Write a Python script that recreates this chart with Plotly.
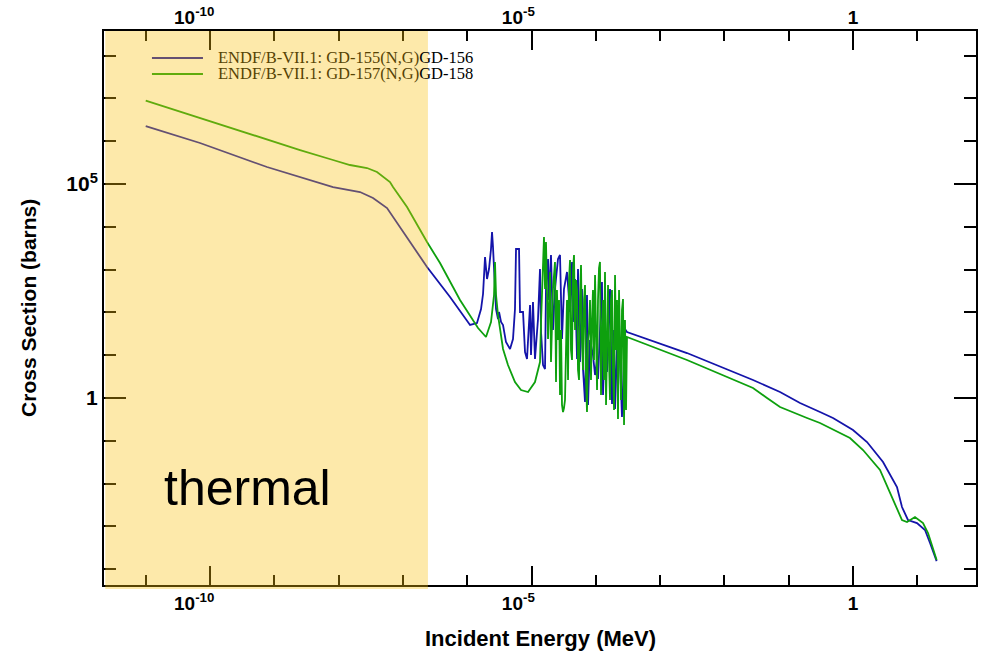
import plotly.graph_objects as go

# Neutron capture cross sections, ENDF/B-VII.1.
# Values are stored as log10(energy / MeV) and log10(sigma / barns).
gd155_log_e = [
    -11.0, -10.156, -9.114, -8.600, -8.087, -7.667, -7.465, -7.247, -7.045, -6.843, -6.625,
    -6.267, -5.956, -5.848, -5.785, -5.754, -5.723, -5.692, -5.661, -5.630, -5.614,
    -5.599, -5.568, -5.552, -5.521, -5.505, -5.474, -5.443, -5.397, -5.334, -5.288,
    -5.257, -5.241, -5.194, -5.179, -5.132, -5.101, -5.070, -5.023, -5.008, -4.977,
    -4.946, -4.899, -4.868, -4.852, -4.821, -4.790, -4.775, -4.743, -4.728, -4.697,
    -4.666, -4.635, -4.588, -4.557, -4.526, -4.495, -4.448, -4.401, -4.370, -4.355,
    -4.323, -4.292, -4.277, -4.246, -4.215, -4.199, -4.168, -4.137, -4.121, -4.090,
    -4.044, -4.012, -3.981, -3.966, -3.904, -3.888, -3.857, -3.826, -3.779, -3.748,
    -3.717, -3.701, -3.655, -3.624, -3.593, -3.546, -3.515, -2.582, -1.555, -1.135,
    -0.824, -0.513, -0.311, 0.0, 0.218, 0.467, 0.684, 0.762, 0.855, 0.995,
    1.120, 1.198, 1.301,
]
gd155_log_xs = [
    6.355, 5.958, 5.397, 5.164, 4.930, 4.813, 4.673, 4.439, 3.995, 3.528, 3.061,
    2.360, 1.706, 1.752, 2.079, 2.430, 3.294, 2.780, 3.014, 3.481, 3.879,
    3.528, 2.640, 2.079, 1.846, 2.009, 1.776, 1.706, 1.308, 1.145, 1.379,
    2.079, 3.481, 3.481, 2.009, 2.009, 1.075, 0.911, 2.173, 1.005, 2.243,
    0.911, 1.846, 3.014, 1.542, 0.771, 0.678, 2.547, 3.248, 2.290, 3.341,
    1.589, 2.547, 3.248, 3.341, 1.379, 2.547, 2.944, 2.009, 3.178, 1.776,
    2.780, 0.911, 3.014, 0.841, 2.547, 0.678, -0.093, 2.407, -0.164, 1.355,
    1.005, 0.537, 0.888, 0.444, 2.710, 0.070, 1.589, 0.607, 2.547, -0.140,
    1.589, -0.257, 1.822, 0.888, -0.444, 1.612, 1.542, 1.051, 0.421, 0.140,
    -0.117, -0.327, -0.467, -0.748, -1.028, -1.495, -2.079, -2.547, -2.850, -2.921,
    -3.084, -3.388, -3.810,
]

gd157_log_e = [
    -11.0, -10.156, -9.114, -8.600, -8.087, -7.823, -7.558, -7.403, -7.201, -7.154,
    -6.936, -6.625, -6.423, -6.112, -5.832, -5.708, -5.630, -5.583, -5.568, -5.552,
    -5.521, -5.443, -5.366, -5.257, -5.163, -5.054, -4.946, -4.868, -4.852, -4.821,
    -4.806, -4.790, -4.775, -4.743, -4.712, -4.697, -4.666, -4.635,
    -4.619, -4.604, -4.588, -4.572, -4.557, -4.541, -4.526, -4.510, -4.495, -4.479,
    -4.463, -4.448, -4.432, -4.417, -4.401, -4.386, -4.370, -4.355, -4.339, -4.323,
    -4.308, -4.292, -4.277, -4.261, -4.246, -4.230, -4.215, -4.199, -4.183, -4.168,
    -4.152, -4.137, -4.121, -4.106, -4.090, -4.075, -4.059, -4.044, -4.028, -4.012,
    -3.997, -3.981, -3.966, -3.950, -3.935, -3.919, -3.904, -3.888, -3.873, -3.857,
    -3.841, -3.826, -3.810, -3.795, -3.779, -3.764, -3.748, -3.733, -3.717, -3.701,
    -3.686, -3.670, -3.655, -3.639, -3.624, -3.608, -3.593, -3.577, -3.561, -3.546,
    -3.530, -3.515,
    -2.582, -1.555, -1.337, -1.135, -0.715, -0.513, -0.047, 0.156, 0.420, 0.622,
    0.762, 0.840, 0.964, 1.089, 1.167, 1.301,
]
gd157_log_xs = [
    6.946, 6.542, 6.028, 5.794, 5.561, 5.444, 5.374, 5.280, 5.047, 4.930,
    4.463, 3.645, 3.154, 2.290, 1.636, 1.425, 1.776, 2.407, 3.178, 2.407,
    1.939, 1.145, 0.771, 0.374, 0.187, 0.140, 0.374, 0.841, 1.776, 3.341,
    3.762, 2.547, 3.645, 1.379, 2.944, 0.841, 2.547, 3.178,
    0.374, 2.523, 1.355, 2.290, 0.070, 1.589, -0.164, -0.327, -0.234, -0.047,
    1.822, 2.290, 0.421, 2.757, 3.224, 1.121, 0.888, 2.991, 3.341, 1.589,
    2.757, 2.523, 0.654, 0.421, 2.290, 3.107, 1.355, 0.654, 2.290, 2.640,
    0.421, -0.327, 1.355, 1.589, 2.290, 0.421, 1.822, 2.523, 0.888, 2.874,
    1.589, 0.187, 2.290, 3.037, 3.178, 0.070, 1.355, 2.290, 0.421, 2.944,
    -0.164, 1.822, 2.640, 0.888, -0.047, 2.290, 2.523, 0.654, -0.280, 2.874,
    1.121, 2.290, -0.491, 2.523, 1.355, -0.047, 2.056, 2.313, -0.631, 1.822,
    -0.280, 1.425,
    0.888, 0.234, 0.0, -0.210, -0.467, -0.584, -0.935, -1.215, -1.682, -2.383,
    -2.850, -2.897, -2.780, -2.921, -3.154, -3.785,
]

series_names = [
    "ENDF/B-VII.1: GD-155(N,G)GD-156",
    "ENDF/B-VII.1: GD-157(N,G)GD-158",
]
series_colors = ["#1414aa", "#0ea00e"]

NB = "\u00a0"
x_major_vals = [1e-10, 1e-5, 1.0]
x_major_text = ["10<sup>-10</sup>" + NB * 6, "10<sup>-5</sup>" + NB * 5, "1"]
x_minor_vals = [1e-11, 1e-10, 1e-9, 1e-8, 1e-7, 1e-6, 1e-5, 1e-4, 1e-3, 1e-2, 1e-1, 1.0, 10.0]
y_major_vals = [1e5, 1.0]
y_major_text = ["10<sup>5</sup>", "1"]
y_minor_vals = [1e-4, 1e-3, 1e-2, 1e-1, 1.0, 10.0, 1e2, 1e3, 1e4, 1e5, 1e6, 1e7, 1e8]

thermal_max_mev = 2.45e-7
thermal_min_mev = 2.35e-12

x_range_log = [-11.649, 1.913]
y_range_log = [-4.369, 8.575]

fig = go.Figure()

curves = [(gd155_log_e, gd155_log_xs), (gd157_log_e, gd157_log_xs)]
for (le, lx), name, color in zip(curves, series_names, series_colors):
    fig.add_trace(go.Scatter(
        x=[10.0 ** v for v in le],
        y=[10.0 ** v for v in lx],
        mode="lines",
        name=name,
        line=dict(color=color, width=1.8),
        showlegend=False,
    ))

# empty trace so the top energy axis is drawn
fig.add_trace(go.Scatter(x=[], y=[], xaxis="x2", showlegend=False))

tick_font = dict(family="Liberation Sans", size=19, color="black", weight="bold")

x_common = dict(
    type="log",
    range=x_range_log,
    automargin=False,
    tickmode="array",
    tickvals=x_major_vals,
    ticktext=x_major_text,
    ticks="inside",
    ticklen=19,
    tickwidth=2,
    tickcolor="black",
    showgrid=False,
    zeroline=False,
    tickfont=tick_font,
    minor=dict(tickmode="array", tickvals=x_minor_vals, ticks="inside",
               ticklen=10, tickwidth=2, tickcolor="black", showgrid=False),
)

fig.update_layout(
    width=993,
    height=657,
    margin=dict(l=104, r=17, t=31, b=72, autoexpand=False),
    paper_bgcolor="white",
    plot_bgcolor="white",
    xaxis=dict(**x_common, showline=True, linewidth=2, linecolor="black", mirror=True),
    xaxis2=dict(**x_common, overlaying="x", side="top", anchor="y", showline=False,
                ticklabelstandoff=2),
    yaxis=dict(
        type="log",
        range=y_range_log,
        automargin=False,
        tickmode="array",
        tickvals=y_major_vals,
        ticktext=y_major_text,
        ticks="inside",
        ticklen=22,
        tickwidth=2,
        tickcolor="black",
        showline=True,
        linewidth=2,
        linecolor="black",
        mirror="ticks",
        showgrid=False,
        zeroline=False,
        tickfont=dict(family="Liberation Sans", size=21, color="black", weight="bold"),
        minor=dict(tickmode="array", tickvals=y_minor_vals, ticks="inside",
                   ticklen=12, tickwidth=2, tickcolor="black", showgrid=False),
    ),
    showlegend=False,
)

# legend keys (drawn under the thermal band)
legend_y = [0.9513, 0.9224]
shapes = []
for y, color in zip(legend_y, series_colors):
    shapes.append(dict(type="line", xref="paper", yref="paper",
                       x0=0.055, x1=0.1135, y0=y, y1=y,
                       line=dict(color=color, width=1.8), layer="above"))

# thermal energy band
shapes.append(dict(type="rect", xref="x", yref="paper",
                   x0=thermal_min_mev, x1=thermal_max_mev, y0=-0.007, y1=1.0,
                   fillcolor="rgba(249,191,11,0.35)", line=dict(width=0),
                   layer="above"))
fig.update_layout(shapes=shapes)

annotations = []
for y, name in zip(legend_y, series_names):
    head, tail = name[:-6], name[-6:]
    annotations.append(dict(
        xref="paper", yref="paper", x=0.1284, y=y, xanchor="left", yanchor="middle",
        text=f"<span style='color:#574304'>{head}</span>{tail}",
        showarrow=False, font=dict(family="Liberation Serif", size=16.5, color="black"),
    ))

annotations.append(dict(
    xref="paper", yref="paper", x=0.164, y=0.175, xanchor="center", yanchor="middle",
    text="thermal", showarrow=False,
    font=dict(family="Liberation Sans", size=50, color="black"),
))
annotations.append(dict(
    xref="paper", yref="paper", x=0.501, y=-0.0957, xanchor="center", yanchor="middle",
    text="Incident Energy (MeV)", showarrow=False,
    font=dict(family="Liberation Sans", size=22, color="black", weight="bold"),
))
annotations.append(dict(
    xref="paper", yref="paper", x=-0.0872, y=0.5, xanchor="center", yanchor="middle",
    text="Cross Section (barns)", textangle=-90, showarrow=False,
    font=dict(family="Liberation Sans", size=21, color="black", weight="bold"),
))
fig.update_layout(annotations=annotations)

fig.write_html("out.html")
